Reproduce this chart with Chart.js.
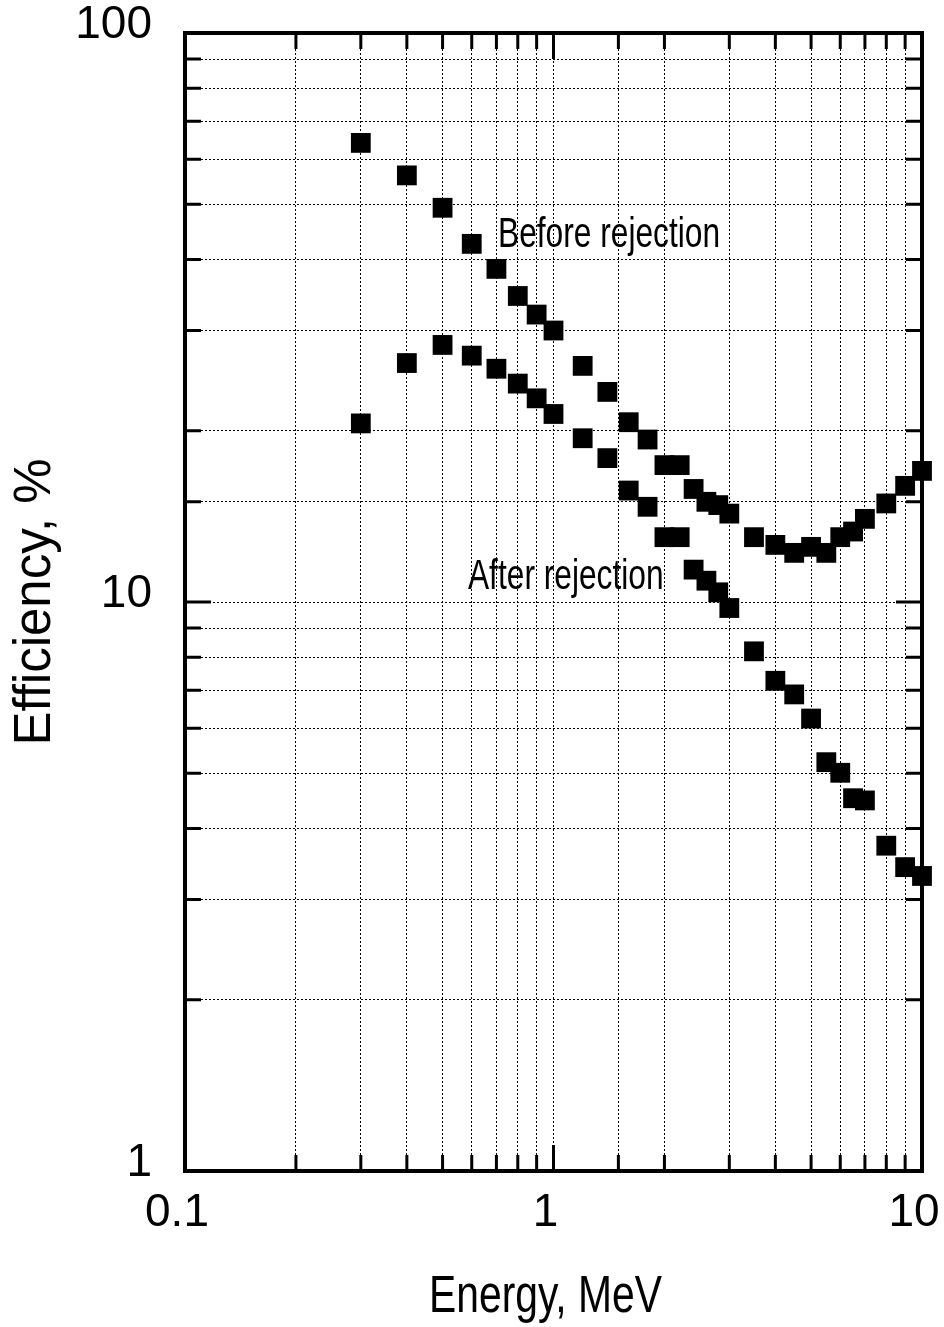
<!DOCTYPE html>
<html>
<head>
<meta charset="utf-8">
<title>Efficiency vs energy</title>
<script src="https://cdn.jsdelivr.net/npm/chart.js@4.4.1/dist/chart.umd.min.js"></script>
<style>
  html, body { margin: 0; padding: 0; background: #fff; }
  canvas { display: block; }
</style>
</head>
<body>
<canvas id="chart" width="944" height="1327"></canvas>
<script>
// Energy points (MeV) shared by both series
const energies = [0.3, 0.4, 0.5, 0.6, 0.7, 0.8, 0.9, 1.0, 1.2, 1.4, 1.6, 1.8, 2.0, 2.2, 2.4,
                  2.6, 2.8, 3.0, 3.5, 4.0, 4.5, 5.0, 5.5, 6.0, 6.5, 7.0, 8.0, 9.0, 10];

// Efficiency, %
const beforeRejection = [64.1, 56.2, 49.3, 42.6, 38.5, 34.5, 32.0, 30.0, 26.0, 23.4, 20.7, 19.3, 17.4, 17.4, 15.8,
                         15.0, 14.8, 14.3, 13.0, 12.6, 12.2, 12.5, 12.2, 13.0, 13.3, 14.0, 14.9, 16.0, 17.0];
const afterRejection = [20.6, 26.3, 28.3, 27.1, 25.7, 24.2, 22.8, 21.4, 19.4, 17.9, 15.7, 14.7, 13.0, 13.0, 11.4,
                        10.9, 10.4, 9.76, 8.19, 7.27, 6.88, 6.24, 5.23, 5.01, 4.52, 4.48, 3.73, 3.42, 3.30];

const seriesNames = ['Before rejection', 'After rejection'];
const xTickValues = [0.1, 1, 10];
const xTickLabels = ['0.1', '1', '10'];
const yTickValues = [1, 10, 100];
const yTickLabels = ['1', '10', '100'];

const xTitle = 'Energy, MeV';
const yTitle = 'Efficiency, %';

// where the series names sit on the plot (left edge, baseline), in data units
const seriesLabelAt = [
    { x: 0.707, y: 42.1 },
    { x: 0.586, y: 10.55 }
];

const FONT = '"Liberation Sans", Arial, Helvetica, sans-serif';

function toPoints(ys) {
    return energies.map((e, i) => ({ x: e, y: ys[i] }));
}

function pickLabel(values, labels) {
    return (value) => {
        const i = values.findIndex(v => Math.abs(v - value) < 1e-9);
        return i >= 0 ? labels[i] : '';
    };
}

// draws text squeezed horizontally by sx
function drawText(ctx, text, x, y, size, sx, align, angle) {
    ctx.save();
    ctx.translate(x, y);
    if (angle) ctx.rotate(angle);
    ctx.scale(sx, 1);
    ctx.font = `${size}px ${FONT}`;
    ctx.fillStyle = '#000';
    ctx.textAlign = align;
    ctx.textBaseline = 'alphabetic';
    ctx.fillText(text, 0, 0);
    ctx.restore();
}

const framePlugin = {
    id: 'framePlugin',
    beforeDatasetsDraw(chart) {
        const { ctx, chartArea: a, scales } = chart;
        ctx.save();
        ctx.strokeStyle = '#000';
        ctx.lineCap = 'butt';

        // inward tick marks on all four sides
        ctx.lineWidth = 3;
        scales.x.ticks.forEach(t => {
            const px = scales.x.getPixelForValue(t.value);
            if (px <= a.left + 1 || px >= a.right - 1) return;
            const len = t.major ? 26 : 16;
            ctx.beginPath();
            ctx.moveTo(px, a.bottom); ctx.lineTo(px, a.bottom - len);
            ctx.moveTo(px, a.top); ctx.lineTo(px, a.top + len);
            ctx.stroke();
        });
        scales.y.ticks.forEach(t => {
            const py = scales.y.getPixelForValue(t.value);
            if (py <= a.top + 1 || py >= a.bottom - 1) return;
            const len = t.major ? 26 : 16;
            ctx.beginPath();
            ctx.moveTo(a.left, py); ctx.lineTo(a.left + len, py);
            ctx.moveTo(a.right, py); ctx.lineTo(a.right - len, py);
            ctx.stroke();
        });

        // heavy frame
        ctx.lineWidth = 4;
        ctx.strokeRect(a.left, a.top, a.right - a.left, a.bottom - a.top);
        ctx.restore();
    },
    afterDraw(chart) {
        const { ctx, chartArea: a, scales } = chart;

        seriesLabelAt.forEach((p, i) => {
            drawText(ctx, seriesNames[i],
                scales.x.getPixelForValue(p.x), scales.y.getPixelForValue(p.y),
                42, 0.755, 'left');
        });

        drawText(ctx, xTitle, (a.left + a.right) / 2 - 8, 1312, 51, 0.8, 'center');
        drawText(ctx, yTitle, 50, (a.top + a.bottom) / 2, 51, 1.0, 'center', -Math.PI / 2);
    }
};

const ctx = document.getElementById('chart').getContext('2d');

new Chart(ctx, {
    type: 'scatter',
    data: {
        datasets: [
            {
                label: seriesNames[0],
                data: toPoints(beforeRejection),
                pointStyle: 'rect',
                pointRadius: 14,
                pointHoverRadius: 14,
                backgroundColor: '#000',
                borderColor: '#000',
                borderWidth: 0,
                clip: false
            },
            {
                label: seriesNames[1],
                data: toPoints(afterRejection),
                pointStyle: 'rect',
                pointRadius: 14,
                pointHoverRadius: 14,
                backgroundColor: '#000',
                borderColor: '#000',
                borderWidth: 0,
                clip: false
            }
        ]
    },
    options: {
        responsive: false,
        animation: false,
        devicePixelRatio: 1,
        layout: {
            padding: { top: 33, right: 22, bottom: 0, left: 0 }
        },
        plugins: {
            legend: { display: false },
            tooltip: { enabled: false }
        },
        scales: {
            x: {
                type: 'logarithmic',
                min: 0.1,
                max: 10,
                afterFit: (scale) => {
                    scale.height = 156;
                    scale.paddingLeft = 0;
                    scale.paddingRight = 0;
                },
                grid: { color: '#000', lineWidth: 1, drawTicks: false },
                border: { display: false, dash: [2, 2] },
                ticks: {
                    autoSkip: false,
                    maxRotation: 0,
                    padding: 15,
                    labelOffset: -8,
                    color: '#000',
                    font: { family: FONT, size: 46 },
                    callback: pickLabel(xTickValues, xTickLabels)
                }
            },
            y: {
                type: 'logarithmic',
                min: 1,
                max: 100,
                afterFit: (scale) => {
                    scale.width = 185;
                    scale.paddingTop = 0;
                    scale.paddingBottom = 0;
                },
                grid: { color: '#000', lineWidth: 1, drawTicks: false },
                border: { display: false, dash: [2, 2] },
                ticks: {
                    autoSkip: false,
                    padding: 33,
                    labelOffset: -8,
                    color: '#000',
                    font: { family: FONT, size: 46 },
                    callback: pickLabel(yTickValues, yTickLabels)
                }
            }
        }
    },
    plugins: [framePlugin]
});
</script>
</body>
</html>
